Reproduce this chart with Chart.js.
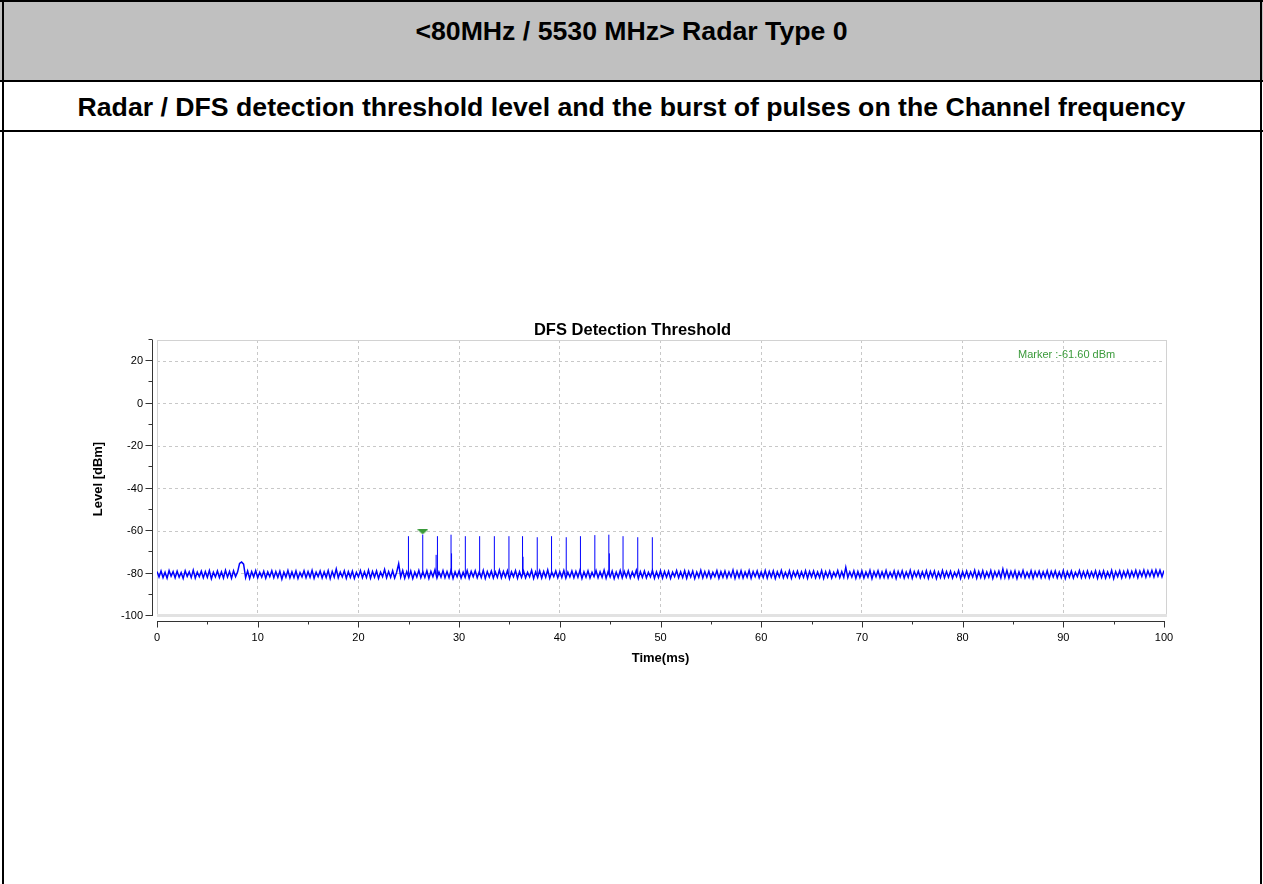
<!DOCTYPE html>
<html>
<head>
<meta charset="utf-8">
<script src="https://cdn.jsdelivr.net/npm/chart.js@4.4.0/dist/chart.umd.min.js"></script>
<style>
body { margin: 0; background: #fff; width: 1263px; height: 884px; overflow: hidden; position: relative; font-family: "Liberation Sans", Arial, sans-serif; }
.ln { position: absolute; background: #000; }
#hdr { position: absolute; left: 0; top: 0; width: 1263px; height: 81px; background: #c0c0c0; }
.t { position: absolute; left: 0; width: 1263px; text-align: center; font-weight: bold; font-size: 26.67px; line-height: 30px; }
#c { position: absolute; left: 0; top: 140px; }
</style>
</head>
<body>
<div id="hdr"></div>
<div class="ln" style="left:0;top:0;width:1263px;height:2px"></div>
<div class="ln" style="left:0;top:80px;width:1263px;height:2px"></div>
<div class="ln" style="left:0;top:130px;width:1263px;height:2px"></div>
<div class="ln" style="left:2px;top:0;width:2px;height:884px"></div>
<div class="ln" style="left:1260px;top:0;width:2px;height:884px"></div>
<div class="t" style="top:16px">&lt;80MHz / 5530 MHz&gt; Radar Type 0</div>
<div class="t" style="top:92px">Radar / DFS detection threshold level and the burst of pulses on the Channel frequency</div>
<canvas id="c" width="1263" height="700"></canvas>
<script>
// noise floor, one reading every SAMPLE_MS
const SAMPLE_MS = 0.2;
const noiseLevels = [
  -79.0,-81.6,-78.8,-81.9,-79.4,-82.2,-78.6,-81.3,-79.1,-82.0,-78.9,-81.7,-79.5,-82.3,-78.7,-81.4,-79.2,-81.9,-78.4,-82.1,
  -79.3,-81.5,-78.9,-82.0,-79.1,-81.8,-78.6,-82.4,-79.4,-81.6,-78.8,-81.9,-79.2,-82.1,-78.5,-81.7,-79.0,-82.2,-78.7,-81.5,
  -79.3,-75.2,-74.6,-75.6,-81.9,-78.8,-82.3,-79.1,-81.6,-78.6,-82.0,-79.4,-81.7,-78.9,-82.2,-79.2,-81.5,-78.7,-82.0,-79.1,
  -81.8,-78.9,-82.6,-79.3,-81.7,-78.6,-82.1,-79.2,-81.9,-78.8,-82.3,-79.5,-81.6,-78.7,-82.0,-79.1,-81.8,-78.5,-82.2,-79.3,
  -81.5,-78.8,-82.1,-79.2,-81.9,-78.6,-82.4,-79.0,-81.7,-77.9,-82.0,-79.3,-81.6,-78.7,-82.2,-79.1,-81.8,-78.9,-82.3,-79.4,
  -81.6,-78.6,-82.0,-79.2,-81.9,-78.4,-82.2,-79.0,-81.7,-78.8,-82.3,-79.3,-81.5,-78.1,-82.0,-79.1,-81.8,-78.7,-82.1,-79.4,
  -75.4,-81.7,-78.6,-82.2,-79.1,-81.9,-78.8,-82.4,-79.3,-81.6,-78.5,-82.0,-79.2,-81.8,-78.7,-82.3,-79.0,-81.5,-78.3,-82.1,
  -79.3,-81.7,-78.6,-82.0,-79.1,-81.9,-78.4,-82.3,-79.2,-81.6,-78.8,-82.1,-79.4,-81.8,-78.6,-82.2,-79.0,-81.5,-78.7,-82.0,
  -79.2,-81.9,-78.5,-82.3,-79.1,-81.6,-78.8,-82.1,-79.3,-81.8,-78.4,-82.0,-79.0,-81.7,-78.7,-82.4,-79.2,-81.5,-78.6,-82.2,
  -79.1,-81.8,-78.8,-82.0,-79.4,-81.6,-78.5,-82.3,-79.2,-81.9,-78.7,-82.1,-79.0,-81.7,-78.3,-82.2,-79.3,-81.5,-78.8,-82.0,
  -79.1,-81.9,-78.6,-82.2,-79.3,-81.6,-78.8,-82.0,-79.0,-81.8,-78.5,-82.3,-79.2,-81.7,-78.7,-82.1,-79.4,-81.5,-78.6,-82.0,
  -79.2,-81.8,-78.4,-82.2,-79.1,-81.6,-78.8,-82.4,-79.3,-81.9,-78.6,-82.0,-79.0,-81.7,-78.7,-82.1,-79.2,-81.5,-78.5,-82.3,
  -79.1,-81.8,-78.8,-82.0,-79.4,-81.6,-78.6,-82.2,-79.2,-81.9,-78.7,-82.1,-79.0,-81.7,-78.9,-82.3,-79.3,-81.5,-78.6,-82.0,
  -79.2,-81.9,-78.7,-82.2,-79.0,-81.6,-78.8,-82.4,-79.3,-81.8,-78.5,-82.0,-79.1,-81.7,-78.9,-82.1,-79.4,-81.5,-78.6,-82.2,
  -79.1,-81.8,-78.8,-82.0,-79.2,-81.6,-78.4,-82.3,-79.0,-81.9,-78.7,-82.1,-79.3,-81.7,-78.6,-82.2,-79.1,-81.5,-78.8,-82.0,
  -79.3,-81.9,-78.6,-82.1,-79.0,-81.7,-78.8,-82.3,-79.2,-81.6,-78.5,-82.0,-79.4,-81.8,-78.7,-82.2,-79.1,-81.5,-78.9,-82.0,
  -79.2,-81.8,-78.7,-82.2,-79.0,-81.6,-78.8,-82.0,-79.3,-81.9,-78.6,-82.3,-79.1,-81.7,-78.8,-82.1,-79.4,-81.5,-78.6,-82.0,
  -79.1,-81.8,-77.1,-81.9,-79.2,-81.6,-78.7,-82.2,-79.0,-81.9,-78.8,-82.1,-79.3,-81.7,-78.5,-82.4,-79.1,-81.5,-78.7,-82.0,
  -79.2,-81.9,-78.6,-82.0,-79.4,-81.7,-78.8,-82.3,-79.0,-81.6,-78.7,-82.1,-79.3,-81.8,-78.5,-82.2,-79.1,-81.5,-78.9,-82.0,
  -79.2,-81.8,-78.7,-82.2,-79.0,-81.6,-78.8,-82.4,-79.3,-81.9,-78.6,-82.0,-79.1,-81.7,-78.9,-82.1,-79.4,-81.5,-78.6,-82.3,
  -79.1,-81.8,-78.8,-82.0,-79.2,-81.6,-78.5,-82.2,-79.0,-81.9,-78.7,-82.1,-79.3,-81.7,-78.6,-82.3,-79.1,-81.5,-78.9,-82.0,
  -77.9,-81.9,-78.6,-82.1,-79.0,-81.7,-78.8,-82.3,-79.2,-81.6,-78.5,-82.0,-79.4,-81.8,-78.7,-82.2,-79.1,-81.5,-78.9,-82.0,
  -79.2,-81.8,-78.7,-82.2,-79.0,-81.6,-78.8,-82.0,-79.3,-81.9,-78.6,-82.3,-79.1,-81.7,-78.8,-82.1,-79.4,-81.5,-78.6,-82.0,
  -79.1,-81.8,-78.8,-81.9,-79.2,-81.6,-78.7,-82.2,-79.0,-81.9,-78.8,-82.1,-79.3,-81.7,-78.5,-82.4,-79.1,-81.5,-78.7,-82.0,
  -79.0,-81.6,-78.6,-81.8,-78.9,-81.5,-78.5,-81.9,-78.8,-81.4,-78.4,-81.7,-78.7,-81.3,-78.5,-81.6,-78.3,-81.2,-78.4,-81.5,
  -78.6
];

// radar burst
const pulseTimes = [24.97, 26.39, 27.85, 29.2, 30.62, 32.04, 33.5, 34.95, 36.3, 37.76, 39.18, 40.64, 42.05, 43.48, 44.87, 46.28, 47.74, 49.19];
const pulsePeaks = [-62.4, -61.6, -62.4, -61.7, -62.4, -62.4, -62.4, -62.4, -62.4, -62.9, -62.4, -62.9, -62.4, -61.9, -61.7, -62.4, -62.9, -62.9];
const pulseBase = -80.5;
const shoulderTimes = [27.72, 29.25, 36.35, 44.92];
const shoulderPeaks = [-71.2, -70.5, -72.1, -70.5];

const markerTime = 26.39;
const markerLevel = -60.4;
const markerLabel = 'Marker :-61.60 dBm';

const xMin = 0, xMax = 100, xStep = 5;
const yMin = -100, yMax = 30, yStep = 10;

const FONT = '"Liberation Sans", Arial, sans-serif';

const noiseData = noiseLevels.map((v, i) => ({ x: i * SAMPLE_MS, y: v }));
const pulseData = [];
pulseTimes.forEach((t, i) => {
  pulseData.push({ x: t, y: pulseBase }, { x: t, y: pulsePeaks[i] }, { x: t, y: null });
});
shoulderTimes.forEach((t, i) => {
  pulseData.push({ x: t, y: pulseBase }, { x: t, y: shoulderPeaks[i] }, { x: t, y: null });
});

// flat downward triangle for the marker
const tri = document.createElement('canvas');
tri.width = 11; tri.height = 5;
const tctx = tri.getContext('2d');
tctx.fillStyle = '#3a9a3a';
tctx.beginPath(); tctx.moveTo(0, 0); tctx.lineTo(11, 0); tctx.lineTo(5.5, 5); tctx.closePath(); tctx.fill();

const decor = {
  id: 'decor',
  beforeDatasetsDraw(chart) {
    const { ctx, chartArea: a } = chart;
    ctx.save();
    ctx.strokeStyle = '#d2d2d2';
    ctx.lineWidth = 1;
    ctx.strokeRect(a.left + 0.5, a.top + 0.5, a.right - a.left + 2, a.bottom - a.top - 1);
    ctx.fillStyle = '#e2e2e2';
    ctx.fillRect(a.left, a.bottom - 2, a.right - a.left + 3, 3);
    ctx.restore();
  },
  afterDraw(chart) {
    const { ctx, chartArea: a, scales: { x, y } } = chart;
    ctx.save();
    ctx.strokeStyle = '#333';
    ctx.lineWidth = 1;
    // y axis, offset left of the plot
    const ax = a.left - 4.5;
    ctx.beginPath();
    ctx.moveTo(ax, y.getPixelForValue(yMax)); ctx.lineTo(ax, y.getPixelForValue(yMin));
    y.ticks.forEach(t => {
      const py = Math.round(y.getPixelForValue(t.value)) - 0.5;
      const len = t.value % 20 === 0 ? 7 : 4;
      ctx.moveTo(ax, py); ctx.lineTo(ax - len, py);
    });
    // x axis, offset below the plot
    const ay = a.bottom + 5.5;
    ctx.moveTo(x.getPixelForValue(xMin), ay); ctx.lineTo(x.getPixelForValue(xMax) + 1, ay);
    x.ticks.forEach(t => {
      const px = Math.round(x.getPixelForValue(t.value)) + 0.5;
      const len = t.value % 10 === 0 ? 6 : 3;
      ctx.moveTo(px, ay); ctx.lineTo(px, ay + len);
    });
    ctx.stroke();

    ctx.fillStyle = '#000';
    ctx.textAlign = 'center';
    ctx.textBaseline = 'middle';
    ctx.font = 'bold 16.5px ' + FONT;
    ctx.fillText('DFS Detection Threshold', (a.left + a.right) / 2 - 28, a.top - 10);
    ctx.font = 'bold 13px ' + FONT;
    ctx.fillText('Time(ms)', (a.left + a.right) / 2 + 0, a.bottom + 42);
    ctx.save();
    ctx.translate(a.left - 59, (a.top + a.bottom) / 2 + 1);
    ctx.rotate(-Math.PI / 2);
    ctx.fillText('Level [dBm]', 0, 0);
    ctx.restore();

    ctx.fillStyle = '#3a9a3a';
    ctx.font = '11px ' + FONT;
    ctx.textAlign = 'left';
    ctx.fillText(markerLabel, a.right - 146, a.top + 15);
    ctx.restore();
  }
};

new Chart(document.getElementById('c'), {
  type: 'line',
  data: {
    datasets: [
      {
        data: [{ x: markerTime, y: markerLevel }],
        showLine: false,
        pointStyle: tri,
        pointRadius: 5,
        order: 0
      },
      {
        data: pulseData,
        borderColor: '#0000ff',
        borderWidth: 1,
        pointRadius: 0,
        spanGaps: false,
        order: 1
      },
      {
        data: noiseData,
        borderColor: '#0000ff',
        borderWidth: 1.5,
        pointRadius: 0,
        tension: 0,
        order: 2
      }
    ]
  },
  options: {
    responsive: false,
    animation: false,
    layout: { padding: { left: 57, top: 200, right: 99, bottom: 194 } },
    plugins: { legend: { display: false }, tooltip: { enabled: false }, title: { display: false } },
    scales: {
      x: {
        type: 'linear',
        min: xMin, max: xMax,
        afterFit: s => { s.height = 30; },
        border: { display: false, dash: [3, 3] },
        grid: {
          drawTicks: false,
          color: c => (c.tick && c.tick.value % 10 === 0 && c.tick.value > xMin && c.tick.value < xMax) ? '#c8c8c8' : 'rgba(0,0,0,0)'
        },
        ticks: {
          stepSize: xStep,
          autoSkip: false,
          maxRotation: 0,
          padding: 15,
          color: '#000',
          font: { family: FONT, size: 11 },
          callback: v => (v % 10 === 0 ? String(v) : '')
        }
      },
      y: {
        min: yMin, max: yMax,
        afterFit: s => { s.width = 100; },
        border: { display: false, dash: [3, 3] },
        grid: {
          drawTicks: false,
          color: c => (c.tick && c.tick.value % 20 === 0 && c.tick.value > yMin) ? '#c8c8c8' : 'rgba(0,0,0,0)'
        },
        ticks: {
          stepSize: yStep,
          autoSkip: false,
          padding: 14,
          color: '#000',
          font: { family: FONT, size: 11 },
          callback: v => (v % 20 === 0 ? String(v) : '')
        }
      }
    }
  },
  plugins: [decor]
});
</script>
</body>
</html>
